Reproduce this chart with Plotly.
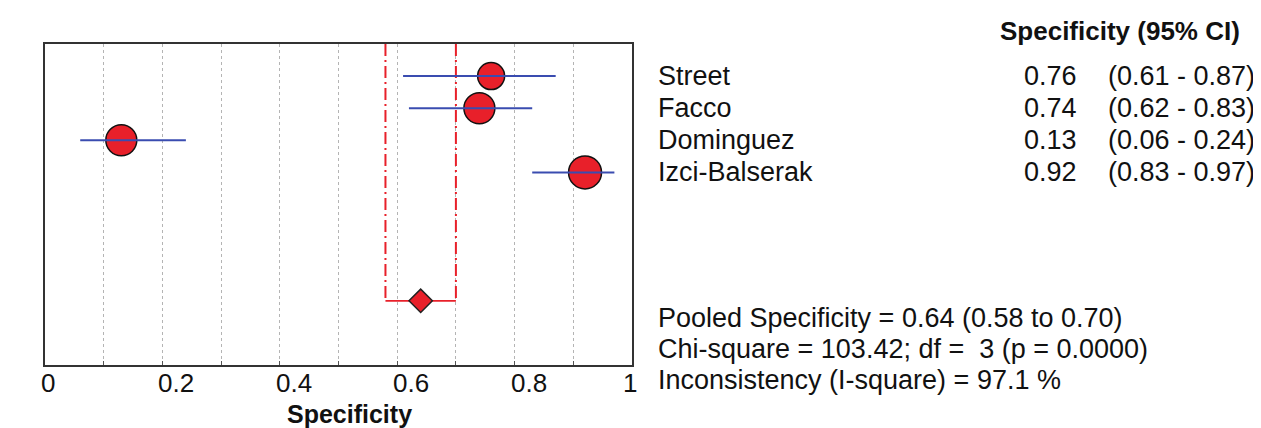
import plotly.graph_objects as go

# ---- data ----
studies = ["Street", "Facco", "Dominguez", "Izci-Balserak"]
spec = [0.76, 0.74, 0.13, 0.92]
ci_lo = [0.61, 0.62, 0.06, 0.83]
ci_hi = [0.87, 0.83, 0.24, 0.97]
rows = [1, 2, 3, 4]
pooled_row = 8
pooled = 0.64
pooled_lo = 0.58
pooled_hi = 0.70
chi_sq = 103.42
df = 3
p_val = "0.0000"
i_sq = 97.1
tick_vals = [0, 0.2, 0.4, 0.6, 0.8, 1]
tick_text = ["0", "0.2", "0.4", "0.6", "0.8", "1"]

# ---- styles ----
marker_px = [27, 31, 31, 33]
RED = "#e8202a"
BLUE = "#3a4cb0"
FONT = "Liberation Sans, Arial, sans-serif"
FS = 27

fig = go.Figure()

# pooled CI dash-dot vertical lines
for xv in (pooled_lo, pooled_hi):
    fig.add_trace(go.Scatter(x=[xv, xv], y=[0, pooled_row], mode="lines",
                             line=dict(color=RED, width=2, dash="12px,4px,2px,4px"),
                             hoverinfo="skip", showlegend=False))
# pooled horizontal segment
fig.add_trace(go.Scatter(x=[pooled_lo, pooled_hi], y=[pooled_row, pooled_row], mode="lines",
                         line=dict(color=RED, width=1.8), hoverinfo="skip", showlegend=False))
# pooled diamond
fig.add_trace(go.Scatter(x=[pooled], y=[pooled_row], mode="markers",
                         marker=dict(symbol="diamond", size=18, color=RED, opacity=1,
                                     line=dict(color="#222", width=1.5)),
                         showlegend=False))

# study circles
fig.add_trace(go.Scatter(x=spec, y=rows, mode="markers",
                         marker=dict(symbol="circle", size=marker_px, color=RED, opacity=1,
                                     line=dict(color="#111", width=1.5)),
                         showlegend=False))
# study CI lines (drawn over circles)
for lo, hi, r in zip(ci_lo, ci_hi, rows):
    fig.add_trace(go.Scatter(x=[lo, hi], y=[r, r], mode="lines",
                             line=dict(color=BLUE, width=2), hoverinfo="skip", showlegend=False))

# page body has an 8px margin, so lay the figure out 8px smaller
OFF = 8
W, H = 1261 - OFF, 428 - OFF
L, T = 45 - OFF, 44 - OFF
R = W - (632 - OFF)
B = H - (365 - OFF)
plot_w = W - L - R


def px_to_paper_x(px):
    # px in reference picture pixels
    return (px - 45) / plot_w


ann = []
# x tick labels
for v, t in zip(tick_vals, tick_text):
    shift = 3 if v == 0 else (-2 if v == 1 else 14)
    ann.append(dict(x=v, y=0, xref="x", yref="paper", text=t, showarrow=False,
                    xanchor="center", yanchor="middle", yshift=-18, xshift=shift,
                    font=dict(family=FONT, size=26, color="#111")))
# x axis title
ann.append(dict(x=0.5, y=0, xref="x", yref="paper", text="<b>Specificity</b>", showarrow=False,
                xanchor="center", yanchor="middle", yshift=-49, xshift=11,
                font=dict(family=FONT, size=25, color="#111")))
# header
ann.append(dict(x=px_to_paper_x(1242), y=1, xref="paper", yref="paper",
                text="<b>Specificity (95% CI)</b>", showarrow=False,
                xanchor="right", yanchor="middle", yshift=13,
                font=dict(family=FONT, size=FS - 1, color="#111")))
# study rows
for name, s, lo, hi, r in zip(studies, spec, ci_lo, ci_hi, rows):
    ann.append(dict(x=px_to_paper_x(656), y=r, xref="paper", yref="y", text=name,
                    showarrow=False, xanchor="left", yanchor="middle",
                    font=dict(family=FONT, size=FS, color="#111")))
    ann.append(dict(x=px_to_paper_x(1079), y=r, xref="paper", yref="y", text=f"{s:.2f}",
                    showarrow=False, xanchor="right", yanchor="middle",
                    font=dict(family=FONT, size=FS, color="#111")))
    ann.append(dict(x=px_to_paper_x(1257), y=r, xref="paper", yref="y",
                    text=f"({lo:.2f} - {hi:.2f})",
                    showarrow=False, xanchor="right", yanchor="middle",
                    font=dict(family=FONT, size=FS, color="#111")))
# summary stats
stats = [
    f"Pooled Specificity = {pooled:.2f} ({pooled_lo:.2f} to {pooled_hi:.2f})",
    f"Chi-square = {chi_sq:.2f}; df =  {df} (p = {p_val})",
    f"Inconsistency (I-square) = {i_sq:.1f} %",
]
for txt, ys in zip(stats, [47, 16, -15]):
    ann.append(dict(x=px_to_paper_x(656), y=0, xref="paper", yref="paper", text=txt,
                    showarrow=False, xanchor="left", yanchor="middle", yshift=ys,
                    font=dict(family=FONT, size=FS, color="#111")))

fig.update_layout(
    width=W, height=H,
    margin=dict(l=L, r=R, t=T, b=B),
    paper_bgcolor="white", plot_bgcolor="white",
    annotations=ann,
    showlegend=False,
)
fig.update_xaxes(range=[0, 1], dtick=0.1, tick0=0, showgrid=True, gridcolor="#b4b4b4",
                 griddash="3px,3px", gridwidth=1, showticklabels=False,
                 ticks="inside", ticklen=4, tickcolor="#555",
                 showline=True, linecolor="#333", linewidth=2, mirror=True, zeroline=False)
fig.update_yaxes(range=[10, 0], showgrid=False, showticklabels=False, ticks="",
                 showline=True, linecolor="#333", linewidth=2, mirror=True, zeroline=False)

fig.write_html("out.html")
